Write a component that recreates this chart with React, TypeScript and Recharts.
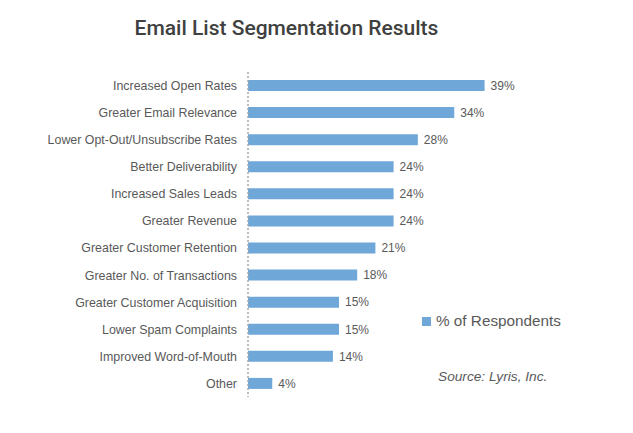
import { BarChart, Bar, XAxis, YAxis, LabelList } from "recharts";

const categories = [
  "Increased Open Rates",
  "Greater Email Relevance",
  "Lower Opt-Out/Unsubscribe Rates",
  "Better Deliverability",
  "Increased Sales Leads",
  "Greater Revenue",
  "Greater Customer Retention",
  "Greater No. of Transactions",
  "Greater Customer Acquisition",
  "Lower Spam Complaints",
  "Improved Word-of-Mouth",
  "Other",
];

const respondents = [39, 34, 28, 24, 24, 24, 21, 18, 15, 15, 14, 4];

const SERIES_NAME = "% of Respondents";

const data = categories.map((name, i) => ({ name, value: respondents[i] }));

const BAR_COLOR = "#6FA8D8";
const TEXT_COLOR = "#595959";
const FONT = "'Liberation Sans', Arial, sans-serif";

export default function App() {
  return (
    <div style={{ position: "relative", width: 633, height: 433, margin: -8, background: "#fff" }}>
      <div
        style={{
          position: "absolute",
          left: 0,
          width: 633,
          top: 16,
          textAlign: "center",
          paddingRight: 60,
          boxSizing: "border-box",
          fontFamily: "Roboto, sans-serif",
          fontWeight: 500,
          fontSize: 21,
          color: "#404040",
        }}
      >
        Email List Segmentation Results
      </div>
      <BarChart
        width={633}
        height={433}
        data={data}
        layout="vertical"
        margin={{ top: 72, right: 112, bottom: 36, left: 0 }}
        barSize={11}
      >
        <XAxis type="number" domain={[0, 45]} hide />
        <YAxis
          type="category"
          dataKey="name"
          width={248}
          tickLine={false}
          tickSize={0}
          tickMargin={11}
          interval={0}
          axisLine={{ stroke: "#a6a6a6", strokeDasharray: "2 2", strokeWidth: 1.5 }}
          tick={{ fill: TEXT_COLOR, fontSize: 12.4, fontFamily: FONT }}
        />
        <Bar dataKey="value" name={SERIES_NAME} fill={BAR_COLOR} isAnimationActive={false}>
          <LabelList
            dataKey="value"
            position="right"
            offset={6}
            formatter={(v) => `${v}%`}
            fill={TEXT_COLOR}
            fontSize={12}
            fontFamily={FONT}
          />
        </Bar>
      </BarChart>
      {/* legend */}
      <div
        style={{
          position: "absolute",
          left: 422,
          top: 312,
          display: "flex",
          alignItems: "center",
          fontFamily: FONT,
          fontSize: 15.3,
          color: TEXT_COLOR,
        }}
      >
        <span style={{ width: 9, height: 9, background: BAR_COLOR, marginRight: 5 }} />
        {SERIES_NAME}
      </div>
      <div
        style={{
          position: "absolute",
          left: 438,
          top: 369,
          fontFamily: FONT,
          fontStyle: "italic",
          fontSize: 13.7,
          color: TEXT_COLOR,
        }}
      >
        Source: Lyris, Inc.
      </div>
    </div>
  );
}
